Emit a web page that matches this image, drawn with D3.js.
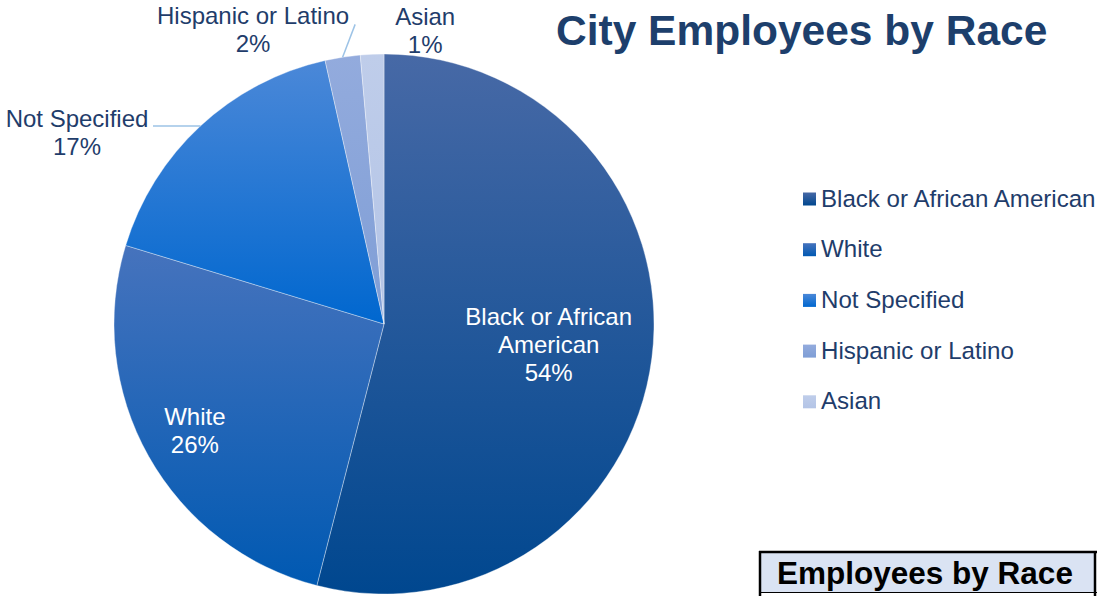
<!DOCTYPE html>
<html>
<head>
<meta charset="utf-8">
<script src="https://cdn.jsdelivr.net/npm/d3@7"></script>
<style>
  html, body { margin: 0; padding: 0; background: #fff; }
  svg { display: block; font-family: "Liberation Sans", Arial, sans-serif; }
</style>
</head>
<body>
<svg id="chart" width="1097" height="596"></svg>
<script>
// Share of city employees by race (percent)
const categories = ["Black or African American", "White", "Not Specified", "Hispanic or Latino", "Asian"];
const shares = [54.0, 25.7, 16.8, 2.1, 1.4];
// Label lines shown on the slices
const labelLines = [["Black or African", "American"], ["White"], ["Not Specified"], ["Hispanic or Latino"], ["Asian"]];

// Vertical gradient per slice: [top colour, bottom colour]
const sliceColors = [
  ["#4769a6", "#00478f"],
  ["#4673bd", "#0059b2"],
  ["#4b88d8", "#0067cf"],
  ["#93abdd", "#7f9ed6"],
  ["#bfcdea", "#b3c4e6"]
];

// Label placement in polar terms (radius in px, angle in degrees clockwise from 12 o'clock)
const labelPlacement = [
  { r: 166, mid: true, inside: true },
  { r: 217, mid: true, inside: true },
  { r: 362, a: 302, inside: false, leader: "horizontal", leaderEndX: 153 },
  { r: 322, a: 336, inside: false, leader: "point", leaderEnd: { r: 301, a: -5.5 } },
  { r: 296, a: 8, inside: false }
];

const svg = d3.select("#chart");
const cx = 384, cy = 324, radius = 270;
const lineH = 28;
const labelFont = 24;

const defs = svg.append("defs");
sliceColors.forEach((c, i) => {
  const g = defs.append("linearGradient")
    .attr("id", "grad" + i)
    .attr("x1", 0).attr("y1", 0).attr("x2", 0).attr("y2", 1);
  g.append("stop").attr("offset", "0%").attr("stop-color", c[0]);
  g.append("stop").attr("offset", "100%").attr("stop-color", c[1]);
});

const pie = d3.pie().sort(null).value(d => d)(shares);
const arc = d3.arc().innerRadius(0).outerRadius(radius);

const gPie = svg.append("g").attr("transform", `translate(${cx},${cy})`);
gPie.selectAll("path.slice")
  .data(pie)
  .join("path")
  .attr("class", "slice")
  .attr("d", arc)
  .attr("fill", (d, i) => `url(#grad${i})`)
  .attr("stroke", "rgba(255,255,255,0.45)")
  .attr("stroke-width", 0.8);

const polar = (r, deg) => {
  const t = deg * Math.PI / 180;
  return [r * Math.sin(t), -r * Math.cos(t)];
};
const midDeg = d => ((d.startAngle + d.endAngle) / 2) * 180 / Math.PI;

// Leader lines for the labels outside the pie
pie.forEach((d, i) => {
  const p = labelPlacement[i];
  if (!p.leader) return;
  const start = polar(radius, midDeg(d));
  let end;
  if (p.leader === "horizontal") end = [p.leaderEndX - cx, start[1]];
  else end = polar(p.leaderEnd.r, p.leaderEnd.a);
  gPie.append("line")
    .attr("x1", start[0]).attr("y1", start[1])
    .attr("x2", end[0]).attr("y2", end[1])
    .attr("stroke", "#9dc3e6")
    .attr("stroke-width", 1.5);
});

// Data labels
pie.forEach((d, i) => {
  const p = labelPlacement[i];
  const pos = p.mid ? polar(p.r, midDeg(d)) : polar(p.r, p.a);
  const lines = labelLines[i].concat([Math.round(shares[i]) + "%"]);
  const n = lines.length;
  const t = gPie.append("text")
    .attr("text-anchor", "middle")
    .attr("font-size", labelFont)
    .attr("fill", p.inside ? "#ffffff" : "#1f3d6b");
  lines.forEach((ln, k) => {
    t.append("tspan")
      .attr("x", pos[0])
      .attr("y", pos[1] + (k - (n - 1) / 2) * lineH + labelFont * 0.35)
      .text(ln);
  });
});

// Title
svg.append("text")
  .attr("x", 556).attr("y", 45)
  .attr("font-size", 42.5)
  .attr("font-weight", "bold")
  .attr("fill", "#1d3f6c")
  .text("City Employees by Race");

// Legend
const legend = svg.append("g").attr("transform", "translate(803,199)");
const rowH = 50.7;
const items = legend.selectAll("g.item")
  .data(categories)
  .join("g")
  .attr("class", "item")
  .attr("transform", (d, i) => `translate(0,${i * rowH})`);
items.append("rect")
  .attr("x", 0).attr("y", -6.5)
  .attr("width", 13).attr("height", 13)
  .attr("fill", (d, i) => `url(#grad${i})`);
items.append("text")
  .attr("x", 18).attr("y", 7.5)
  .attr("font-size", 24.1)
  .attr("fill", "#1f3d6b")
  .text(d => d);

// Table header box below the legend
const box = svg.append("g");
box.append("rect")
  .attr("x", 760).attr("y", 552)
  .attr("width", 335).attr("height", 40)
  .attr("fill", "#dae3f3");
box.append("line").attr("x1", 759).attr("x2", 1097).attr("y1", 552).attr("y2", 552)
  .attr("stroke", "#000").attr("stroke-width", 2.5);
box.append("line").attr("x1", 760).attr("x2", 760).attr("y1", 551).attr("y2", 596)
  .attr("stroke", "#000").attr("stroke-width", 2.5);
box.append("line").attr("x1", 1095).attr("x2", 1095).attr("y1", 551).attr("y2", 596)
  .attr("stroke", "#000").attr("stroke-width", 2.5);
box.append("line").attr("x1", 760).attr("x2", 1097).attr("y1", 592.5).attr("y2", 592.5)
  .attr("stroke", "#000").attr("stroke-width", 1.2);
box.append("text")
  .attr("x", 777).attr("y", 584)
  .attr("font-size", 31.5)
  .attr("font-weight", "bold")
  .attr("fill", "#000")
  .text("Employees by Race");
</script>
</body>
</html>
